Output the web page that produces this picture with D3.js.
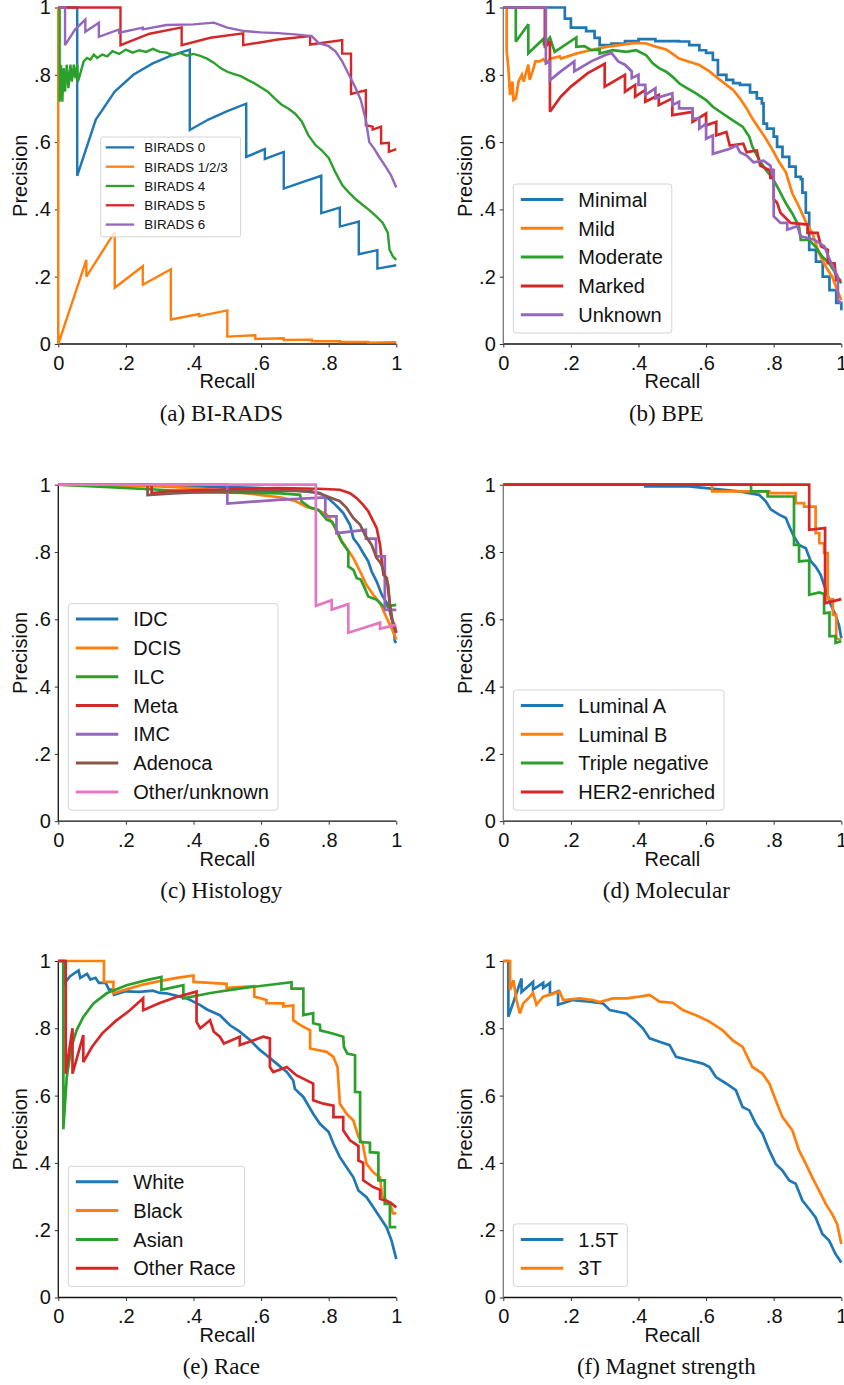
<!DOCTYPE html>
<html>
<head>
<meta charset="utf-8">
<script src="https://cdn.jsdelivr.net/npm/d3@7"></script>
<style>
  html, body { margin: 0; background: #fff; }
  svg { display: block; }
</style>
</head>
<body>
<svg id="fig" width="844" height="1385"></svg>
<script>
'use strict';

// ---- data (recall, precision) ----
var recallTicks = [0, 0.2, 0.4, 0.6, 0.8, 1];
var precisionTicks = [0, 0.2, 0.4, 0.6, 0.8, 1];
var tickLabels = ['0', '.2', '.4', '.6', '.8', '1'];
var captions = ['(a) BI-RADS', '(b) BPE', '(c) Histology', '(d) Molecular', '(e) Race', '(f) Magnet strength'];
var colors = ['#1f77b4', '#ff7f0e', '#2ca02c', '#d62728', '#9467bd', '#8c564b', '#e377c2'];

var biradsNames = ['BIRADS 0', 'BIRADS 1/2/3', 'BIRADS 4', 'BIRADS 5', 'BIRADS 6'];
var birads0 = [[0,1],[0.056,1],[0.056,0.5],[0.111,0.667],[0.167,0.75],[0.222,0.8],[0.278,0.833],[0.333,0.857],[0.389,0.875],[0.389,0.636],[0.444,0.667],[0.5,0.692],[0.556,0.714],[0.556,0.556],[0.611,0.579],[0.611,0.55],[0.667,0.571],[0.667,0.462],[0.722,0.481],[0.778,0.5],[0.778,0.389],[0.833,0.405],[0.833,0.349],[0.889,0.364],[0.889,0.267],[0.944,0.279],[0.944,0.224],[1,0.234]];
var birads123 = [[0,1],[0,0],[0.083,0.25],[0.083,0.2],[0.167,0.333],[0.167,0.167],[0.25,0.231],[0.25,0.176],[0.333,0.222],[0.333,0.073],[0.417,0.089],[0.417,0.083],[0.5,0.1],[0.5,0.022],[0.583,0.026],[0.583,0.015],[0.667,0.017],[0.667,0.012],[0.75,0.013],[0.75,0.008],[0.833,0.008],[0.833,0.006],[0.917,0.006],[0.917,0.004],[1,0.005]];
var birads4 = [[0,1],[0.004,1],[0.004,0.72],[0.008,0.83],[0.012,0.72],[0.016,0.82],[0.02,0.75],[0.025,0.83],[0.03,0.76],[0.036,0.83],[0.04,0.78],[0.046,0.83],[0.05,0.79],[0.056,0.83],[0.058,0.78],[0.064,0.8],[0.075,0.84],[0.085,0.85],[0.095,0.845],[0.105,0.86],[0.115,0.85],[0.13,0.86],[0.145,0.855],[0.16,0.87],[0.18,0.862],[0.2,0.875],[0.22,0.866],[0.24,0.873],[0.26,0.868],[0.28,0.877],[0.3,0.868],[0.32,0.866],[0.34,0.858],[0.36,0.865],[0.38,0.857],[0.4,0.862],[0.42,0.856],[0.44,0.848],[0.46,0.836],[0.48,0.82],[0.5,0.809],[0.52,0.802],[0.54,0.796],[0.56,0.785],[0.58,0.775],[0.6,0.762],[0.62,0.75],[0.64,0.73],[0.66,0.712],[0.68,0.7],[0.7,0.685],[0.72,0.662],[0.74,0.62],[0.76,0.592],[0.78,0.575],[0.8,0.553],[0.82,0.51],[0.84,0.472],[0.86,0.45],[0.88,0.43],[0.9,0.414],[0.92,0.398],[0.94,0.38],[0.96,0.36],[0.975,0.33],[0.98,0.28],[0.99,0.26],[1,0.25]];
var birads5 = [[0,1],[0.184,1],[0.184,0.888],[0.27,0.922],[0.365,0.941],[0.365,0.888],[0.45,0.91],[0.547,0.923],[0.547,0.888],[0.65,0.905],[0.745,0.915],[0.745,0.89],[0.84,0.903],[0.84,0.863],[0.866,0.863],[0.866,0.743],[0.91,0.754],[0.91,0.65],[0.93,0.646],[0.93,0.637],[0.955,0.646],[0.955,0.596],[0.978,0.598],[0.978,0.571],[1,0.579]];
var birads6 = [[0,1],[0.02,1],[0.02,0.888],[0.05,0.935],[0.08,0.964],[0.08,0.928],[0.12,0.955],[0.12,0.913],[0.18,0.935],[0.18,0.925],[0.25,0.94],[0.25,0.935],[0.32,0.948],[0.4,0.95],[0.46,0.955],[0.5,0.94],[0.55,0.93],[0.6,0.926],[0.65,0.924],[0.7,0.92],[0.75,0.915],[0.77,0.895],[0.8,0.885],[0.82,0.87],[0.84,0.84],[0.86,0.8],[0.88,0.76],[0.895,0.725],[0.91,0.665],[0.92,0.6],[0.935,0.58],[0.95,0.555],[0.97,0.525],[0.985,0.5],[1,0.465]];

var bpeNames = ['Minimal', 'Mild', 'Moderate', 'Marked', 'Unknown'];
var bpeMinimal = [[0,1],[0.182,1],[0.182,0.967],[0.2,0.967],[0.2,0.94],[0.245,0.94],[0.245,0.93],[0.27,0.93],[0.27,0.91],[0.285,0.91],[0.285,0.888],[0.32,0.893],[0.36,0.9],[0.4,0.906],[0.45,0.9],[0.5,0.9],[0.52,0.899],[0.55,0.888],[0.58,0.873],[0.6,0.865],[0.62,0.844],[0.635,0.8],[0.66,0.785],[0.68,0.775],[0.7,0.77],[0.73,0.748],[0.75,0.73],[0.765,0.715],[0.77,0.655],[0.78,0.64],[0.8,0.616],[0.81,0.586],[0.826,0.556],[0.846,0.527],[0.865,0.497],[0.88,0.49],[0.885,0.45],[0.895,0.39],[0.905,0.28],[0.925,0.245],[0.945,0.2],[0.965,0.16],[0.985,0.122],[1,0.1]];
var bpeMild = [[0,1],[0.01,1],[0.01,0.87],[0.015,0.82],[0.02,0.74],[0.027,0.78],[0.03,0.725],[0.037,0.73],[0.045,0.78],[0.055,0.8],[0.06,0.78],[0.074,0.83],[0.078,0.785],[0.088,0.815],[0.095,0.84],[0.108,0.84],[0.118,0.846],[0.128,0.836],[0.14,0.848],[0.167,0.855],[0.17,0.848],[0.216,0.863],[0.256,0.873],[0.305,0.883],[0.364,0.891],[0.393,0.895],[0.423,0.893],[0.453,0.883],[0.482,0.875],[0.5,0.863],[0.52,0.848],[0.55,0.839],[0.58,0.829],[0.61,0.81],[0.63,0.794],[0.66,0.77],[0.68,0.755],[0.7,0.73],[0.72,0.7],[0.737,0.67],[0.757,0.64],[0.777,0.61],[0.797,0.576],[0.816,0.541],[0.836,0.51],[0.855,0.448],[0.875,0.408],[0.895,0.363],[0.914,0.33],[0.934,0.27],[0.954,0.23],[0.973,0.2],[0.988,0.16],[1,0.131]];
var bpeModerate = [[0,1],[0.037,1],[0.037,0.898],[0.074,0.95],[0.074,0.864],[0.12,0.908],[0.12,0.888],[0.138,0.911],[0.152,0.868],[0.216,0.911],[0.216,0.883],[0.24,0.885],[0.26,0.873],[0.285,0.875],[0.285,0.863],[0.324,0.873],[0.364,0.868],[0.393,0.873],[0.423,0.858],[0.442,0.834],[0.462,0.819],[0.482,0.809],[0.501,0.794],[0.521,0.774],[0.546,0.759],[0.57,0.745],[0.6,0.725],[0.62,0.705],[0.649,0.685],[0.678,0.665],[0.708,0.646],[0.728,0.616],[0.737,0.586],[0.757,0.547],[0.777,0.517],[0.797,0.492],[0.816,0.457],[0.836,0.418],[0.855,0.388],[0.875,0.349],[0.88,0.309],[0.905,0.309],[0.924,0.289],[0.944,0.259],[0.964,0.24],[0.983,0.21],[1,0.18]];
var bpeMarked = [[0,1],[0.123,1],[0.123,0.88],[0.138,0.9],[0.138,0.69],[0.17,0.735],[0.2,0.765],[0.25,0.805],[0.3,0.833],[0.3,0.765],[0.36,0.8],[0.36,0.75],[0.39,0.77],[0.39,0.735],[0.42,0.755],[0.42,0.72],[0.46,0.74],[0.46,0.71],[0.5,0.73],[0.5,0.68],[0.56,0.69],[0.56,0.66],[0.6,0.685],[0.6,0.65],[0.63,0.66],[0.63,0.62],[0.66,0.63],[0.67,0.59],[0.71,0.595],[0.72,0.57],[0.75,0.575],[0.76,0.53],[0.79,0.515],[0.79,0.49],[0.8,0.52],[0.8,0.43],[0.81,0.42],[0.82,0.39],[0.85,0.36],[0.9,0.355],[0.9,0.33],[0.93,0.33],[0.94,0.29],[0.96,0.28],[0.96,0.24],[0.98,0.24],[0.985,0.19],[1,0.19]];
var bpeUnknown = [[0,1],[0.126,1],[0.126,0.834],[0.138,0.84],[0.138,0.784],[0.17,0.81],[0.21,0.84],[0.21,0.81],[0.26,0.84],[0.3,0.858],[0.32,0.865],[0.34,0.84],[0.36,0.83],[0.38,0.81],[0.38,0.79],[0.4,0.8],[0.4,0.77],[0.42,0.77],[0.42,0.74],[0.45,0.76],[0.45,0.73],[0.5,0.745],[0.5,0.71],[0.52,0.72],[0.52,0.7],[0.56,0.7],[0.56,0.67],[0.58,0.67],[0.58,0.64],[0.6,0.655],[0.6,0.61],[0.62,0.62],[0.62,0.565],[0.67,0.58],[0.69,0.59],[0.7,0.57],[0.72,0.56],[0.74,0.54],[0.77,0.545],[0.79,0.53],[0.795,0.51],[0.8,0.52],[0.8,0.38],[0.82,0.36],[0.84,0.36],[0.84,0.34],[0.87,0.35],[0.88,0.32],[0.9,0.315],[0.92,0.31],[0.95,0.29],[0.97,0.24],[0.99,0.2],[0.99,0.13],[1,0.12]];

var histNames = ['IDC', 'DCIS', 'ILC', 'Meta', 'IMC', 'Adenoca', 'Other/unknown'];
var histIDC = [[0,1],[0.3,0.998],[0.5,0.993],[0.6,0.99],[0.7,0.983],[0.75,0.978],[0.774,0.975],[0.8,0.958],[0.814,0.946],[0.83,0.93],[0.843,0.916],[0.863,0.881],[0.873,0.841],[0.888,0.821],[0.902,0.797],[0.917,0.772],[0.927,0.742],[0.942,0.712],[0.957,0.673],[0.972,0.648],[0.981,0.623],[0.991,0.583],[0.996,0.534],[1,0.53]];
var histDCIS = [[0,1],[0.3,0.995],[0.4,0.99],[0.52,0.979],[0.6,0.969],[0.66,0.962],[0.7,0.952],[0.735,0.934],[0.765,0.926],[0.794,0.911],[0.814,0.881],[0.833,0.841],[0.853,0.812],[0.873,0.782],[0.893,0.742],[0.912,0.702],[0.932,0.673],[0.952,0.648],[0.972,0.603],[0.986,0.574],[1,0.54]];
var histILC = [[0,1],[0.3,0.985],[0.42,0.978],[0.55,0.976],[0.66,0.974],[0.715,0.97],[0.72,0.95],[0.745,0.932],[0.77,0.925],[0.794,0.896],[0.81,0.89],[0.828,0.856],[0.838,0.831],[0.858,0.802],[0.858,0.757],[0.873,0.747],[0.883,0.722],[0.895,0.718],[0.907,0.692],[0.917,0.668],[0.942,0.658],[0.962,0.638],[0.98,0.64],[1,0.643]];
var histMeta = [[0,1],[0.276,1],[0.276,0.975],[0.35,0.982],[0.5,0.986],[0.65,0.99],[0.77,0.988],[0.833,0.985],[0.863,0.975],[0.883,0.96],[0.902,0.94],[0.917,0.921],[0.932,0.891],[0.942,0.871],[0.952,0.821],[0.957,0.772],[0.962,0.732],[0.972,0.722],[0.981,0.643],[0.986,0.603],[0.996,0.578],[1,0.56]];
var histIMC = [[0,1],[0.5,1],[0.5,0.944],[0.65,0.955],[0.79,0.962],[0.79,0.906],[0.823,0.906],[0.823,0.856],[0.91,0.866],[0.91,0.84],[0.94,0.84],[0.94,0.787],[0.966,0.787],[0.966,0.628],[1,0.628]];
var histAdenoca = [[0,1],[0.264,1],[0.264,0.969],[0.35,0.975],[0.5,0.98],[0.65,0.983],[0.75,0.98],[0.784,0.97],[0.81,0.96],[0.833,0.951],[0.853,0.931],[0.873,0.901],[0.893,0.881],[0.907,0.851],[0.927,0.821],[0.942,0.782],[0.955,0.765],[0.966,0.732],[0.976,0.702],[0.981,0.643],[0.991,0.583],[1,0.56]];
var histOther = [[0,1],[0.762,1],[0.762,0.64],[0.809,0.657],[0.809,0.629],[0.858,0.645],[0.858,0.56],[0.952,0.59],[0.952,0.572],[1,0.584]];

var molNames = ['Luminal A', 'Luminal B', 'Triple negative', 'HER2-enriched'];
var molLumA = [[0,1],[0.42,1],[0.42,0.995],[0.55,0.995],[0.6,0.99],[0.698,0.98],[0.757,0.97],[0.777,0.95],[0.792,0.926],[0.816,0.911],[0.836,0.901],[0.846,0.876],[0.86,0.846],[0.875,0.821],[0.895,0.811],[0.91,0.772],[0.924,0.757],[0.939,0.732],[0.949,0.702],[0.958,0.677],[0.969,0.643],[0.983,0.613],[0.993,0.583],[1,0.544]];
var molLumB = [[0,1],[0.618,1],[0.618,0.98],[0.787,0.98],[0.787,0.975],[0.865,0.975],[0.865,0.945],[0.89,0.945],[0.89,0.935],[0.924,0.935],[0.924,0.856],[0.935,0.856],[0.935,0.826],[0.949,0.826],[0.949,0.797],[0.96,0.797],[0.96,0.66],[0.975,0.66],[0.975,0.613],[0.985,0.613],[0.985,0.544],[1,0.538]];
var molTN = [[0,1],[0.733,1],[0.733,0.98],[0.782,0.98],[0.782,0.965],[0.86,0.965],[0.86,0.821],[0.875,0.821],[0.875,0.772],[0.905,0.775],[0.905,0.673],[0.935,0.68],[0.949,0.675],[0.949,0.618],[0.965,0.62],[0.965,0.55],[0.983,0.55],[0.983,0.53],[1,0.535]];
var molHER2 = [[0,1],[0.905,1],[0.905,0.866],[0.952,0.871],[0.952,0.648],[1,0.66]];

var raceNames = ['White', 'Black', 'Asian', 'Other Race'];
var raceWhite = [[0,1],[0.015,1],[0.015,0.93],[0.035,0.955],[0.06,0.972],[0.065,0.95],[0.085,0.962],[0.095,0.945],[0.11,0.95],[0.12,0.935],[0.14,0.935],[0.15,0.915],[0.163,0.915],[0.165,0.9],[0.2,0.91],[0.24,0.908],[0.28,0.912],[0.3,0.905],[0.32,0.904],[0.36,0.894],[0.38,0.889],[0.42,0.869],[0.44,0.856],[0.478,0.839],[0.508,0.809],[0.537,0.79],[0.567,0.765],[0.597,0.735],[0.616,0.72],[0.646,0.695],[0.676,0.67],[0.695,0.645],[0.7,0.62],[0.725,0.596],[0.754,0.546],[0.774,0.516],[0.8,0.492],[0.814,0.457],[0.833,0.417],[0.853,0.387],[0.873,0.357],[0.888,0.318],[0.912,0.298],[0.932,0.268],[0.952,0.238],[0.971,0.209],[0.986,0.169],[1,0.114]];
var raceBlack = [[0,1],[0.135,1],[0.135,0.938],[0.163,0.938],[0.163,0.904],[0.2,0.915],[0.25,0.93],[0.3,0.94],[0.35,0.95],[0.4,0.957],[0.4,0.938],[0.45,0.935],[0.498,0.932],[0.498,0.92],[0.58,0.925],[0.58,0.894],[0.616,0.884],[0.616,0.875],[0.666,0.874],[0.666,0.865],[0.695,0.868],[0.695,0.824],[0.715,0.81],[0.745,0.794],[0.745,0.74],[0.794,0.73],[0.814,0.715],[0.826,0.685],[0.833,0.576],[0.853,0.546],[0.873,0.526],[0.888,0.477],[0.9,0.46],[0.912,0.397],[0.932,0.372],[0.952,0.357],[0.958,0.3],[0.981,0.28],[0.99,0.25],[1,0.25]];
var raceAsian = [[0,1],[0.015,1],[0.015,0.5],[0.025,0.655],[0.039,0.745],[0.054,0.794],[0.074,0.834],[0.104,0.874],[0.143,0.904],[0.202,0.928],[0.261,0.943],[0.305,0.953],[0.305,0.914],[0.37,0.928],[0.37,0.889],[0.45,0.905],[0.55,0.92],[0.69,0.937],[0.69,0.918],[0.725,0.918],[0.725,0.839],[0.754,0.845],[0.754,0.815],[0.774,0.81],[0.775,0.794],[0.814,0.784],[0.843,0.775],[0.845,0.745],[0.855,0.725],[0.878,0.72],[0.878,0.611],[0.893,0.61],[0.893,0.462],[0.922,0.46],[0.922,0.432],[0.947,0.43],[0.947,0.348],[0.966,0.348],[0.966,0.278],[0.981,0.278],[0.981,0.209],[1,0.209]];
var raceOther = [[0,1],[0.022,1],[0.022,0.665],[0.042,0.8],[0.042,0.665],[0.074,0.78],[0.074,0.7],[0.1,0.745],[0.13,0.785],[0.17,0.822],[0.21,0.852],[0.251,0.889],[0.251,0.854],[0.3,0.875],[0.35,0.893],[0.409,0.909],[0.409,0.819],[0.42,0.8],[0.449,0.824],[0.46,0.79],[0.478,0.775],[0.49,0.755],[0.537,0.775],[0.537,0.75],[0.58,0.765],[0.606,0.775],[0.626,0.77],[0.626,0.685],[0.636,0.67],[0.676,0.685],[0.705,0.66],[0.754,0.636],[0.754,0.586],[0.784,0.576],[0.814,0.57],[0.814,0.536],[0.843,0.536],[0.843,0.497],[0.863,0.467],[0.888,0.45],[0.888,0.407],[0.902,0.4],[0.902,0.348],[0.932,0.328],[0.952,0.32],[0.952,0.293],[0.981,0.283],[1,0.268]];

var magnetNames = ['1.5T', '3T'];
var magnet15 = [[0,1],[0.015,1],[0.015,0.834],[0.054,0.948],[0.054,0.908],[0.088,0.938],[0.088,0.915],[0.118,0.935],[0.118,0.92],[0.138,0.935],[0.138,0.9],[0.162,0.91],[0.162,0.87],[0.206,0.884],[0.256,0.879],[0.295,0.874],[0.315,0.854],[0.364,0.844],[0.393,0.82],[0.413,0.8],[0.433,0.77],[0.462,0.76],[0.492,0.75],[0.511,0.715],[0.551,0.705],[0.59,0.695],[0.61,0.685],[0.629,0.655],[0.659,0.636],[0.688,0.616],[0.708,0.566],[0.728,0.556],[0.747,0.516],[0.767,0.487],[0.787,0.437],[0.806,0.397],[0.826,0.377],[0.846,0.348],[0.865,0.338],[0.885,0.288],[0.905,0.263],[0.924,0.238],[0.944,0.189],[0.964,0.169],[0.983,0.129],[1,0.104]];
var magnet3 = [[0,1],[0.02,1],[0.02,0.914],[0.03,0.943],[0.039,0.884],[0.049,0.844],[0.059,0.874],[0.079,0.894],[0.088,0.906],[0.098,0.87],[0.118,0.894],[0.138,0.9],[0.167,0.909],[0.177,0.884],[0.226,0.889],[0.265,0.884],[0.285,0.878],[0.324,0.889],[0.364,0.889],[0.403,0.894],[0.433,0.899],[0.462,0.879],[0.501,0.876],[0.531,0.854],[0.57,0.839],[0.61,0.82],[0.649,0.794],[0.678,0.765],[0.708,0.745],[0.737,0.685],[0.767,0.665],[0.787,0.636],[0.806,0.586],[0.826,0.536],[0.855,0.497],[0.875,0.437],[0.895,0.397],[0.914,0.357],[0.934,0.318],[0.954,0.278],[0.973,0.248],[0.988,0.218],[1,0.159]];

// ---- layout ----
// stepped: curve drawn as a staircase, the rest as straight segments
var panels = [
  { names: biradsNames, curves: [birads0, birads123, birads4, birads5, birads6], stepped: [0, 0, 0, 0, 0] },
  { names: bpeNames, curves: [bpeMinimal, bpeMild, bpeModerate, bpeMarked, bpeUnknown], stepped: [1, 0, 0, 0, 0] },
  { names: histNames, curves: [histIDC, histDCIS, histILC, histMeta, histIMC, histAdenoca, histOther], stepped: [0, 0, 0, 0, 0, 0, 0] },
  { names: molNames, curves: [molLumA, molLumB, molTN, molHER2], stepped: [0, 0, 0, 0] },
  { names: raceNames, curves: [raceWhite, raceBlack, raceAsian, raceOther], stepped: [0, 0, 0, 0] },
  { names: magnetNames, curves: [magnet15, magnet3], stepped: [0, 0] }
];

var colLeft = [58.3, 503.3];
var rowTop = [7.5, 484.7, 961];
var plotW = 338, plotH = 336.5;
var sansFont = '"Liberation Sans", Arial, Helvetica, sans-serif';
var serifFont = '"Liberation Serif", "Times New Roman", serif';

var svg = d3.select('#fig');
svg.append('rect').attr('width', 844).attr('height', 1385).attr('fill', '#fff');

function drawLegend(g, names, x, y, s, pad, anchorBottom) {
  var gap = 28.8 * s;
  var lg = g.append('g');
  var box = lg.append('rect')
    .attr('rx', 3 * s).attr('ry', 3 * s)
    .attr('fill', '#fff').attr('fill-opacity', 0.8)
    .attr('stroke', '#d4d4d4').attr('stroke-width', 1);
  var maxW = 0;
  names.forEach(function (n, i) {
    var cy = 15.5 * s + i * gap;
    lg.append('line')
      .attr('x1', 7.5 * s).attr('x2', 50 * s)
      .attr('y1', cy).attr('y2', cy)
      .attr('stroke', colors[i]).attr('stroke-width', s < 1 ? 2.3 : 3);
    var t = lg.append('text')
      .attr('x', 65 * s).attr('y', cy).attr('dy', '0.36em')
      .attr('font-family', sansFont).attr('font-size', 20 * s)
      .attr('fill', '#111')
      .text(n);
    maxW = Math.max(maxW, t.node().getComputedTextLength());
  });
  var w = 65 * s + maxW + pad;
  var h = 15.5 * s + (names.length - 1) * gap + 18.3 * s;
  box.attr('width', w).attr('height', h);
  var ty = anchorBottom ? y - h : y;
  lg.attr('transform', 'translate(' + x + ',' + ty + ')');
}

panels.forEach(function (p, idx) {
  var col = idx % 2, row = Math.floor(idx / 2);
  var left = colLeft[col], top = rowTop[row];
  var spineColor = col === 0 ? '#111' : '#777';

  var x = d3.scaleLinear().domain([0, 1]).range([left, left + plotW]);
  var y = d3.scaleLinear().domain([0, 1]).range([top + plotH, top]);

  var g = svg.append('g');

  // axes: only left & bottom spines, short outward ticks
  var xAxis = d3.axisBottom(x).tickValues(recallTicks)
    .tickFormat(function (d, i) { return tickLabels[i]; })
    .tickSize(3.5).tickPadding(4);
  var yAxis = d3.axisLeft(y).tickValues(precisionTicks)
    .tickFormat(function (d, i) { return tickLabels[i]; })
    .tickSize(3.5).tickPadding(4);

  var gx = g.append('g').attr('transform', 'translate(0,' + (top + plotH) + ')').call(xAxis);
  var gy = g.append('g').attr('transform', 'translate(' + left + ',0)').call(yAxis);
  [gx, gy].forEach(function (a) {
    a.selectAll('text').attr('font-family', sansFont).attr('font-size', 20).attr('fill', '#111');
    a.selectAll('.tick line').attr('stroke', '#333').attr('stroke-width', 1);
  });
  gx.select('.domain').attr('d', 'M' + left + ',0H' + (left + plotW)).attr('stroke', '#111').attr('stroke-width', 1.3);
  gy.select('.domain').attr('d', 'M0,' + (top + plotH) + 'V' + top).attr('stroke', spineColor).attr('stroke-width', 1.3);
  gx.selectAll('text').attr('dy', '0.92em');

  // curves
  var straight = d3.line()
    .x(function (d) { return x(d[0]); })
    .y(function (d) { return y(d[1]); });
  var stairs = d3.line()
    .curve(d3.curveStepAfter)
    .x(function (d) { return x(d[0]); })
    .y(function (d) { return y(d[1]); });
  p.curves.forEach(function (c, i) {
    g.append('path')
      .datum(c)
      .attr('d', p.stepped[i] ? stairs : straight)
      .attr('fill', 'none')
      .attr('stroke', colors[i])
      .attr('stroke-width', idx === 0 ? 2.4 : 2.7)
      .attr('stroke-linejoin', 'miter')
      .attr('stroke-miterlimit', 3);
  });

  // axis titles
  g.append('text')
    .attr('x', left + plotW / 2).attr('y', top + plotH + 44.3)
    .attr('text-anchor', 'middle')
    .attr('font-family', sansFont).attr('font-size', 20).attr('fill', '#111')
    .text('Recall');
  g.append('text')
    .attr('transform', 'translate(' + (left - 31.5) + ',' + (top + plotH / 2) + ') rotate(-90)')
    .attr('text-anchor', 'middle')
    .attr('font-family', sansFont).attr('font-size', 20).attr('fill', '#111')
    .text('Precision');

  // legend
  if (idx === 0) {
    drawLegend(g, p.names, left + 42.4, top + 129.5, 0.67, 13, false);
  } else {
    drawLegend(g, p.names, left + 10, top + plotH - 11, 1, 9, true);
  }

  // caption
  svg.append('text')
    .attr('x', left + 163).attr('y', top + 413)
    .attr('text-anchor', 'middle')
    .attr('font-family', serifFont).attr('font-size', 23).attr('fill', '#111')
    .text(captions[idx]);
});
</script>
</body>
</html>
